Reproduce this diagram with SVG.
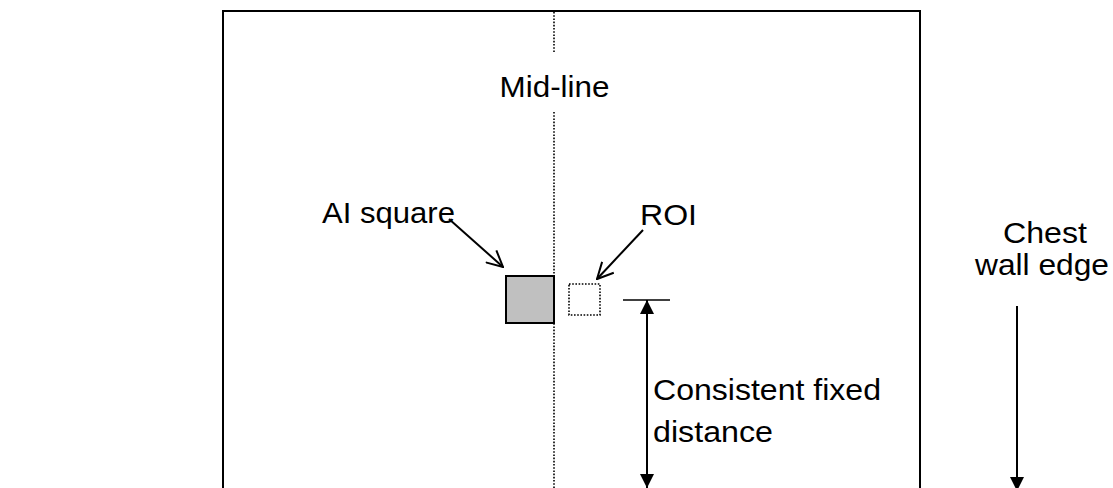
<svg xmlns="http://www.w3.org/2000/svg" width="1113" height="488" viewBox="0 0 1113 488">
  <style>
    text { font-family: "Liberation Sans", Arial, sans-serif; font-size: 29px; fill: #000; }
    .frame { fill: none; stroke: #000; stroke-width: 2; }
    .dotted { fill: none; stroke: #000; stroke-width: 1.6; stroke-dasharray: 1.6 1.6; }
    .line { fill: none; stroke: #000; stroke-width: 2; }
    .thin { fill: none; stroke: #000; stroke-width: 1.3; }
  </style>
  <defs>
    <marker id="solid" viewBox="0 0 14 14" refX="14" refY="7" markerWidth="14" markerHeight="14" markerUnits="userSpaceOnUse" orient="auto-start-reverse">
      <path d="M0,0 L14,7 L0,14 Z" fill="#000"/>
    </marker>
    <marker id="open" viewBox="0 0 18 18" refX="17" refY="9" markerWidth="18" markerHeight="18" markerUnits="userSpaceOnUse" orient="auto">
      <path d="M1,1 L17,9 L1,17" fill="none" stroke="#000" stroke-width="2"/>
    </marker>
  </defs>

  <!-- outer frame (bottom edge runs off the page) -->
  <g id="frame">
    <path class="frame" d="M223,500 V11 H920 V500"/>
  </g>

  <!-- mid-line, broken around its label -->
  <g id="midline">
    <line class="dotted" x1="554" y1="12" x2="554" y2="53"/>
    <line class="dotted" x1="554" y1="112" x2="554" y2="488"/>
    <text x="554.5" y="97" text-anchor="middle" textLength="110" lengthAdjust="spacingAndGlyphs">Mid-line</text>
  </g>

  <g id="ai-square">
    <rect x="506" y="276" width="48" height="47" fill="#c0c0c0" stroke="#000" stroke-width="2"/>
    <text x="322" y="223" textLength="133" lengthAdjust="spacingAndGlyphs">AI square</text>
  </g>

  <g id="roi">
    <rect class="dotted" x="569" y="284" width="31" height="31"/>
    <text x="640" y="225" textLength="57" lengthAdjust="spacingAndGlyphs">ROI</text>
  </g>

  <g id="distance-label">
    <text x="653" y="400" textLength="228" lengthAdjust="spacingAndGlyphs">Consistent fixed</text>
    <text x="653" y="442" textLength="120" lengthAdjust="spacingAndGlyphs">distance</text>
  </g>

  <g id="chest-wall">
    <text x="1003" y="243" textLength="84" lengthAdjust="spacingAndGlyphs">Chest</text>
    <text x="975" y="275" textLength="134" lengthAdjust="spacingAndGlyphs">wall edge</text>
  </g>

  <!-- connectors -->
  <g id="connectors">
    <line class="line" x1="449" y1="219" x2="503" y2="267" marker-end="url(#open)"/>
    <line class="line" x1="643" y1="230" x2="597" y2="279" marker-end="url(#open)"/>
    <line class="thin" x1="623" y1="300" x2="670" y2="300"/>
    <line class="line" x1="647" y1="300" x2="647" y2="488" marker-start="url(#solid)" marker-end="url(#solid)"/>
    <line class="line" x1="1017" y1="306" x2="1017" y2="491" marker-end="url(#solid)"/>
  </g>
</svg>
